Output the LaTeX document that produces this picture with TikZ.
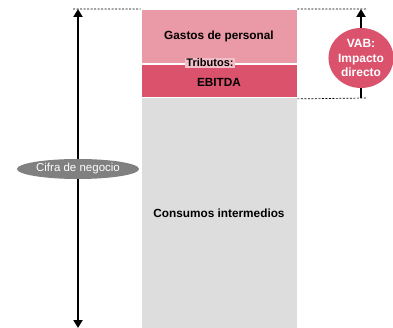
\documentclass[tikz,border=0pt]{standalone}
\usepackage{fontspec}
\setmainfont{Liberation Sans}
\usetikzlibrary{arrows.meta,positioning,shapes.geometric}
\definecolor{rosepale}{RGB}{234,153,166}
\definecolor{rosedeep}{RGB}{219,82,108}
\definecolor{roselabel}{RGB}{243,190,199}
\definecolor{barcolor}{RGB}{221,221,221}
\definecolor{pillgray}{RGB}{128,128,128}
\tikzset{
  bar/.style={draw=white,line width=0.8pt,minimum width=156pt,inner sep=0pt,font=\bfseries\fontsize{11.8}{13}\selectfont,align=center},
  tag/.style={fill=roselabel,inner sep=1.2pt,font=\bfseries\fontsize{11}{12}\selectfont},
  pill/.style={ellipse,fill=pillgray,text=white,minimum width=122pt,minimum height=20pt,inner sep=0pt,font=\fontsize{11.5}{13}\selectfont},
  badge/.style={ellipse,fill=rosedeep,text=white,minimum width=65pt,minimum height=60pt,inner sep=0pt,align=center,font=\bfseries\fontsize{12}{14.5}\selectfont},
  dimarrow/.style={{Triangle[length=8pt,width=9pt]}-{Triangle[length=8pt,width=9pt]},line width=2pt},
  uparrow/.style={-{Triangle[length=8pt,width=9pt]},line width=2pt},
  guide/.style={dashed,line width=0.7pt,dash pattern=on 2pt off 1.5pt}
}
\begin{document}
\begin{tikzpicture}[x=1pt,y=-1pt]
  \useasboundingbox (0,0) rectangle (393,328);
  % stacked bars
  \node[bar,fill=rosepale,minimum height=54pt] (gastos) at (219,36.5) {Gastos de personal};
  \node[bar,fill=rosedeep,minimum height=33pt] (ebitda) at (219,80.5) {\\[-1pt]EBITDA};
  \node[bar,fill=barcolor,minimum height=232pt] (consumos) at (219,213) {Consumos intermedios};
  \node[tag] (tributos) at (210,63) {Tributos:};
  % left dimension
  \coordinate (ltop) at (78,9);
  \coordinate (lbot) at (78,328);
  \coordinate (ldash) at (73,9);
  \draw[guide] (ldash) -- (gastos.north west);
  \draw[dimarrow] (lbot) -- (ltop);
  \node[pill] (cifra) at (78,169) {Cifra de negocio};
  % right dimension
  \coordinate (rtop) at (366,9);
  \coordinate (rbot) at (366,98);
  \coordinate (rarrow) at (361,9);
  \coordinate (rfoot) at (361,98);
  \draw[guide] (gastos.north east) -- (rtop);
  \draw[guide] ([yshift=-1.5pt]ebitda.south east) -- (rbot);
  \node[badge] (vab) at (361,58) {VAB:\\Impacto\\directo};
  \draw[uparrow] (vab.north) -- (rarrow);
  \draw[line width=2pt] (vab.south) -- (rfoot);
\end{tikzpicture}
\end{document}
